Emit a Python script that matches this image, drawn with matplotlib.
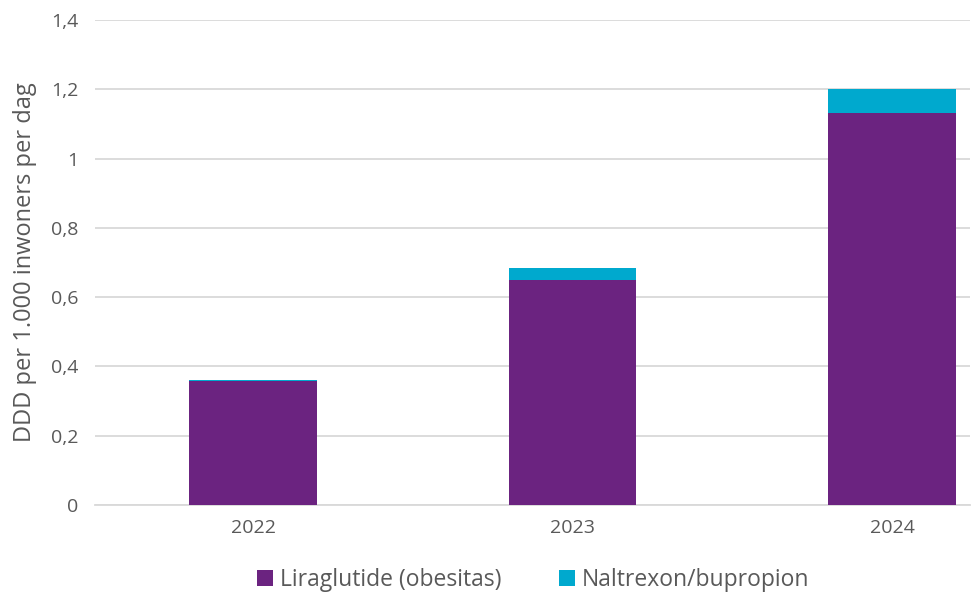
import matplotlib.pyplot as plt
import numpy as np

years = ["2022", "2023", "2024"]
liraglutide = [0.358, 0.650, 1.131]
naltrexon = [0.004, 0.033, 0.070]
yticks = [0, 0.2, 0.4, 0.6, 0.8, 1.0, 1.2, 1.4]
ytick_labels = ["0", "0,2", "0,4", "0,6", "0,8", "1", "1,2", "1,4"]

plt.rcParams['font.family'] = ['Open Sans', 'DejaVu Sans']
txt = '#595959'
fig = plt.figure(figsize=(9.71, 5.97), dpi=100)
ax = fig.add_axes([95/971, 92/597, 875/971, 485/597])
x = np.arange(len(years))
ax.bar(x, liraglutide, width=0.4, color='#6B2380', label='Liraglutide (obesitas)', zorder=3)
ax.bar(x, naltrexon, width=0.4, bottom=liraglutide, color='#00A9CE', label='Naltrexon/bupropion', zorder=3)
ax.set_xlim(-0.495, 2.244)
ax.set_ylim(0, 1.4)
ax.set_yticks(yticks)
ax.set_yticklabels(ytick_labels)
ax.set_xticks(x)
ax.set_xticklabels(years)
ax.yaxis.grid(True, color='#D9D9D9', linewidth=1.3, zorder=0)
for s in ['top', 'right', 'left']:
    ax.spines[s].set_visible(False)
ax.spines['bottom'].set_color('#D9D9D9')
ax.spines['bottom'].set_linewidth(1.3)
ax.tick_params(axis='both', length=0, labelsize=14, colors=txt, pad=12)
ax.tick_params(axis='x', pad=10)
ax.set_ylabel('DDD per 1.000 inwoners per dag', fontsize=17, color=txt, labelpad=10)
leg = fig.legend(loc='center', bbox_to_anchor=(533/971, 17/597), ncol=2, frameon=False,
                 fontsize=16.5, handlelength=0.7, handleheight=0.7, handletextpad=0.3, columnspacing=2.5)
for t in leg.get_texts():
    t.set_color(txt)
fig.savefig('out.png', dpi=100)
